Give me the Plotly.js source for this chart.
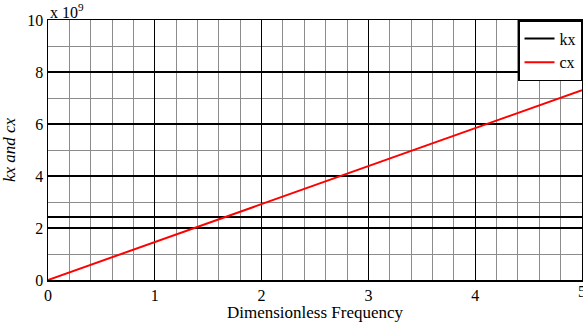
<!DOCTYPE html>
<html><head><meta charset="utf-8">
<script src="https://cdn.plot.ly/plotly-3.0.1.min.js"></script>
<style>html,body{margin:0;padding:0;background:#fff}#c{width:583px;height:322px}</style>
</head><body><div id="c"></div>
<script>
const freq = [0, 1, 2, 3, 4, 5];
const kx = [2.42, 2.42, 2.42, 2.42, 2.42, 2.42];
const cx = [0, 1.46, 2.92, 4.37, 5.84, 7.30];
const xTicks = [0, 1, 2, 3, 4, 5];
const yTicks = [0, 2, 4, 6, 8, 10];
const F = "Liberation Serif";
const data = [
  {x: freq, y: kx, name: "kx", mode: "lines", line: {color: "#000", width: 2}},
  {x: freq, y: cx, name: "cx", mode: "lines", line: {color: "#ff0000", width: 2}}
];
const layout = {
  width: 583, height: 322,
  margin: {l: 48, r: 1, t: 20, b: 42},
  paper_bgcolor: "#fff", plot_bgcolor: "#fff",
  font: {family: F, size: 16, color: "#000"},
  showlegend: true,
  legend: {x: 1, xanchor: "right", y: 1, yanchor: "top", bgcolor: "#fff",
           bordercolor: "#000", borderwidth: 1.5, font: {family: F, size: 16},
           tracegroupgap: 0, itemwidth: 30},
  xaxis: {range: [0, 5], tickvals: xTicks, ticktext: xTicks.map(String),
          showgrid: true, gridcolor: "#000", gridwidth: 1.3,
          minor: {dtick: 0.2, showgrid: true, gridcolor: "#8c8c8c", gridwidth: 1},
          showline: true, linecolor: "#000", linewidth: 1.5, mirror: true,
          zeroline: false, ticks: "", ticklen: 0,
          tickfont: {family: F, size: 16},
          title: {text: "Dimensionless Frequency", font: {family: F, size: 17}, standoff: 1}},
  yaxis: {range: [0, 10], tickvals: yTicks, ticktext: yTicks.map(String),
          showgrid: true, gridcolor: "#000", gridwidth: 1.3,
          minor: {dtick: 1, showgrid: true, gridcolor: "#8c8c8c", gridwidth: 1},
          showline: true, linecolor: "#000", linewidth: 1.5, mirror: true,
          zeroline: false, ticks: "", ticklen: 0,
          tickfont: {family: F, size: 16},
          title: {text: "<i>kx and cx</i>", font: {family: F, size: 17}, standoff: 10}},
  annotations: [
    {xref: "paper", yref: "paper", x: 0, y: 1, xanchor: "left", yanchor: "bottom",
     xshift: 0, yshift: -3, showarrow: false, text: "x 10<sup>9</sup>",
     font: {family: F, size: 16}},
    {xref: "x", yref: "paper", x: xTicks[5], y: 0, xanchor: "center", yanchor: "top",
     yshift: -1, showarrow: false, text: String(xTicks[5]), font: {family: F, size: 16}}
  ]
};
Plotly.newPlot("c", data, layout, {displayModeBar: false, staticPlot: true});
</script></body></html>
